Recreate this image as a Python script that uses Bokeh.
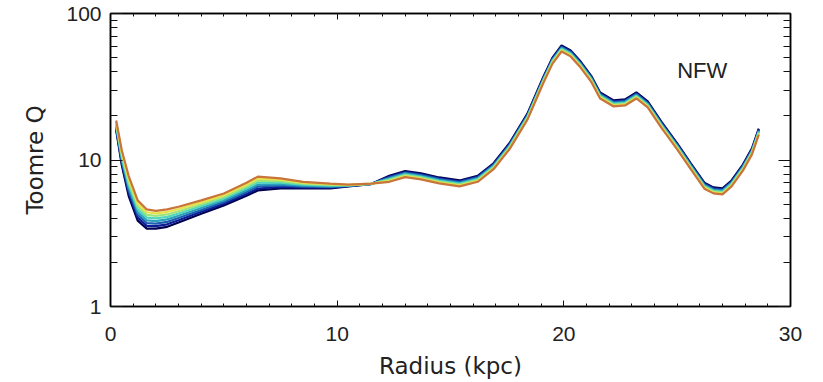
from bokeh.plotting import figure
from bokeh.models import (Range1d, LinearAxis, LogAxis, FixedTicker, SingleIntervalTicker,
                          Label, CustomJSTickFormatter, NumeralTickFormatter)
from bokeh.embed import file_html
from bokeh.resources import INLINE

# ---------------- data ----------------
radius = [0.25, 0.5, 0.8, 1.2, 1.6, 2.0, 2.5, 3.0, 4.0, 5.0, 6.0, 6.5, 7.5, 8.5, 9.7, 10.5, 11.5,
          12.3, 13.0, 13.7, 14.5, 15.4, 16.2, 16.9, 17.6, 18.4, 19.1, 19.5, 19.9, 20.3, 20.7, 21.2,
          21.6, 22.2, 22.7, 23.2, 23.7, 24.3, 25.0, 25.6, 26.2, 26.6, 27.0, 27.4, 27.9, 28.3, 28.6]

q_navy = [16.0, 9.2, 5.7, 3.86, 3.4, 3.4, 3.5, 3.74, 4.3, 4.9, 5.7, 6.2, 6.4, 6.4, 6.4, 6.6, 6.85,
          7.8, 8.4, 8.1, 7.6, 7.25, 7.8, 9.5, 13.0, 20.8, 37.0, 50.0, 60.5, 56.0, 47.8, 37.7, 28.9,
          25.5, 25.9, 28.9, 25.1, 18.3, 13.0, 9.5, 7.0, 6.5, 6.4, 7.25, 9.3, 12.0, 16.4]
q_blue = [16.35, 9.51, 5.96, 4.04, 3.55, 3.54, 3.64, 3.88, 4.43, 5.03, 5.87, 6.39, 6.55, 6.50, 6.47, 6.63, 6.86,
          7.70, 8.29, 7.99, 7.50, 7.15, 7.70, 9.37, 12.83, 20.52, 36.50, 49.33, 59.69, 55.25, 47.16, 37.19, 28.51,
          25.16, 25.55, 28.51, 24.76, 18.05, 12.83, 9.37, 6.91, 6.41, 6.31, 7.15, 9.18, 11.84, 16.18]
q_steel = [16.71, 9.83, 6.23, 4.23, 3.71, 3.68, 3.78, 4.02, 4.56, 5.17, 6.04, 6.60, 6.70, 6.59, 6.54, 6.66, 6.86,
           7.59, 8.18, 7.88, 7.40, 7.06, 7.59, 9.25, 12.65, 20.25, 36.02, 48.67, 58.89, 54.51, 46.53, 36.70, 28.13,
           24.82, 25.21, 28.13, 24.43, 17.81, 12.65, 9.25, 6.81, 6.33, 6.23, 7.06, 9.05, 11.68, 15.96]
q_teal = [17.07, 10.16, 6.52, 4.42, 3.87, 3.83, 3.93, 4.16, 4.70, 5.31, 6.22, 6.80, 6.85, 6.69, 6.61, 6.69, 6.87,
          7.49, 8.07, 7.78, 7.30, 6.96, 7.49, 9.12, 12.49, 19.98, 35.53, 48.02, 58.10, 53.78, 45.91, 36.21, 27.76,
          24.49, 24.87, 27.76, 24.11, 17.58, 12.49, 9.12, 6.72, 6.24, 6.15, 6.96, 8.93, 11.52, 15.75]
q_cyan = [17.44, 10.50, 6.82, 4.63, 4.04, 3.99, 4.09, 4.31, 4.85, 5.45, 6.41, 7.02, 7.01, 6.79, 6.68, 6.71, 6.88,
          7.39, 7.96, 7.67, 7.20, 6.87, 7.39, 9.00, 12.32, 19.71, 35.06, 47.38, 57.32, 53.06, 45.29, 35.72, 27.38,
          24.16, 24.54, 27.38, 23.78, 17.34, 12.32, 9.00, 6.63, 6.16, 6.06, 6.87, 8.81, 11.37, 15.54]
q_green = [17.82, 10.86, 7.13, 4.84, 4.22, 4.15, 4.25, 4.47, 4.99, 5.60, 6.60, 7.24, 7.17, 6.89, 6.75, 6.74, 6.88,
           7.29, 7.85, 7.57, 7.10, 6.78, 7.29, 8.88, 12.15, 19.44, 34.59, 46.74, 56.56, 52.35, 44.68, 35.24, 27.02,
           23.84, 24.21, 27.02, 23.46, 17.11, 12.15, 8.88, 6.54, 6.08, 5.98, 6.78, 8.69, 11.22, 15.33]
q_yellow = [18.21, 11.22, 7.46, 5.06, 4.40, 4.32, 4.42, 4.63, 5.14, 5.75, 6.80, 7.46, 7.33, 6.99, 6.83, 6.77, 6.89,
            7.19, 7.75, 7.47, 7.01, 6.69, 7.19, 8.76, 11.99, 19.18, 34.13, 46.12, 55.80, 51.65, 44.09, 34.77, 26.65,
            23.52, 23.89, 26.65, 23.15, 16.88, 11.99, 8.76, 6.46, 5.99, 5.90, 6.69, 8.58, 11.07, 15.13]
q_orange = [18.6, 11.6, 7.8, 5.3, 4.6, 4.5, 4.6, 4.8, 5.3, 5.9, 7.0, 7.7, 7.5, 7.1, 6.9, 6.8, 6.9,
            7.10, 7.64, 7.37, 6.92, 6.60, 7.10, 8.65, 11.83, 18.93, 33.67, 45.50, 55.06, 50.96, 43.50, 34.31, 26.30,
            23.21, 23.57, 26.30, 22.84, 16.65, 11.83, 8.65, 6.37, 5.92, 5.82, 6.60, 8.46, 10.92, 14.92]

series = [q_navy, q_blue, q_steel, q_teal, q_cyan, q_green, q_yellow, q_orange]
colors = ["#000050", "#0c1c96", "#1f5cb0", "#2aa0bc", "#52d6bc", "#9ee47c", "#e8e24a", "#c8743a"]

x_major = [0, 10, 20, 30]
y_major = [1, 10, 100]
y_minor = [2, 3, 4, 5, 6, 7, 8, 9, 20, 30, 40, 50, 60, 70, 80, 90]
x_label = "Radius (kpc)"
y_label = "Toomre Q"
model_name = "NFW"

# ---------------- figure ----------------
p = figure(frame_width=680, frame_height=293, y_axis_type="log",
           x_range=Range1d(0, 30), y_range=Range1d(1, 100),
           output_backend="svg", toolbar_location=None,
           min_border_left=110, min_border_right=22, min_border_top=13, min_border_bottom=66,
           background_fill_color="white", border_fill_color="white")
p.grid.visible = False
p.outline_line_color = "black"
p.outline_line_width = 1.5

for q, c in zip(series, colors):
    p.line(radius, q, line_color=c, line_width=2.2)

tick_color = "#111111"
text_color = "#222222"

def style_x(ax):
    ax.ticker = SingleIntervalTicker(interval=10, num_minor_ticks=10)
    ax.major_tick_in = 6
    ax.major_tick_out = 0
    ax.minor_tick_in = 3
    ax.minor_tick_out = 0
    ax.axis_line_color = "black"
    ax.axis_line_width = 1.5
    ax.major_tick_line_color = tick_color
    ax.minor_tick_line_color = tick_color

def style_y(ax):
    ax.ticker = FixedTicker(ticks=y_major, minor_ticks=y_minor)
    ax.major_tick_in = 12
    ax.major_tick_out = 0
    ax.minor_tick_in = 7
    ax.minor_tick_out = 0
    ax.axis_line_color = "black"
    ax.axis_line_width = 1.5
    ax.major_tick_line_color = tick_color
    ax.minor_tick_line_color = tick_color

xa = p.xaxis[0]
style_x(xa)
xa.major_label_text_font = "Liberation Sans"
xa.major_label_text_font_size = "21px"
xa.major_label_text_color = text_color
xa.major_label_standoff = 20
xa.axis_label = x_label
xa.axis_label_text_font = "DejaVu Sans"
xa.axis_label_text_font_size = "23px"
xa.axis_label_text_font_style = "normal"
xa.axis_label_text_color = text_color
xa.axis_label_standoff = 9

ya = p.yaxis[0]
style_y(ya)
ya.formatter = NumeralTickFormatter(format="0")
ya.major_label_text_font = "Liberation Sans"
ya.major_label_text_font_size = "21px"
ya.major_label_text_color = text_color
ya.major_label_standoff = 9
ya.axis_label = y_label
ya.axis_label_text_font = "DejaVu Sans"
ya.axis_label_text_font_size = "23px"
ya.axis_label_text_font_style = "normal"
ya.axis_label_text_color = text_color
ya.axis_label_standoff = 15

top = LinearAxis(formatter=CustomJSTickFormatter(code="return ''"))
style_x(top)
p.add_layout(top, "above")
right = LogAxis(formatter=CustomJSTickFormatter(code="return ''"))
style_y(right)
p.add_layout(right, "right")

p.add_layout(Label(x=25.0, y=40.8, text=model_name, text_font="Liberation Sans",
                   text_font_size="22px", text_color=text_color,
                   text_align="left", text_baseline="alphabetic"))

open("out.html", "w").write(file_html(p, INLINE))
